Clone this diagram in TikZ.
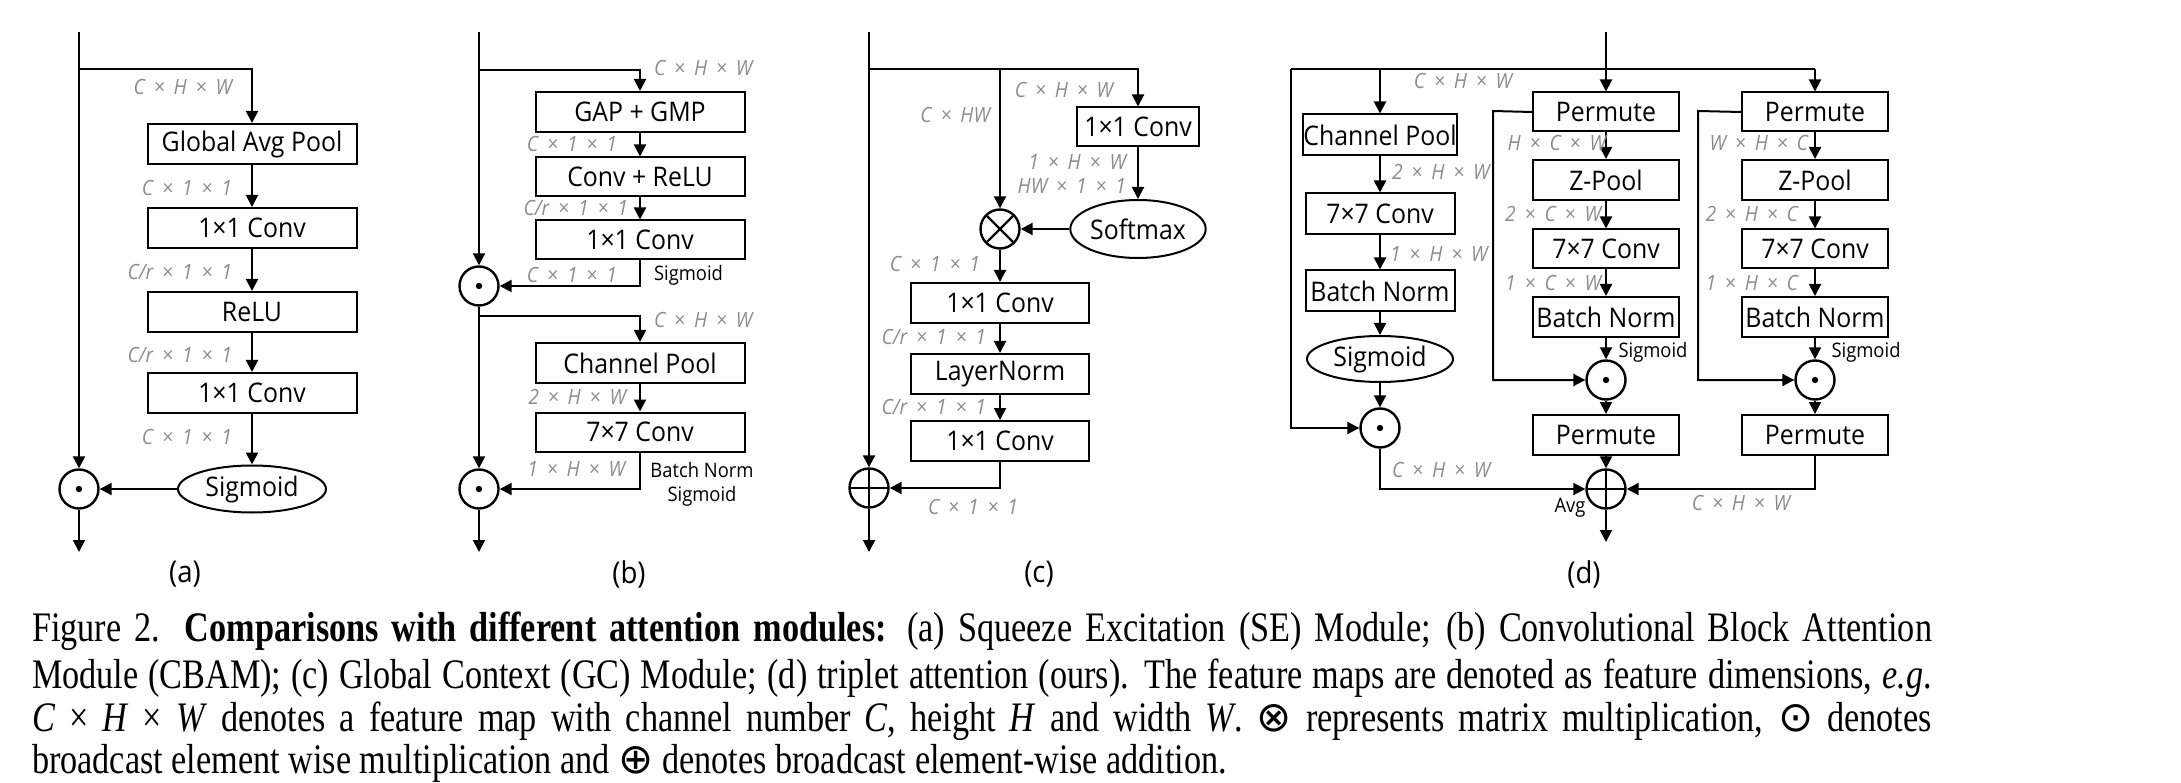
\documentclass[tikz,border=0pt]{standalone}
\usepackage{fontspec}
\setmainfont{Open Sans}[FakeStretch=0.92]
\newfontfamily\capfont[FakeStretch=0.815]{Liberation Serif}
\newfontfamily\opsym{DejaVu Sans}
\usetikzlibrary{arrows.meta,shapes.geometric}
\definecolor{dimtext}{HTML}{8C8C8C}
\newcommand{\blkfont}{\fontsize{27}{32}\selectfont}
\newcommand{\dimfont}{\fontsize{21}{24}\selectfont\itshape}
\newcommand{\notefont}{\fontsize{20}{24}\selectfont}
\newcommand{\subfont}{\fontsize{30}{34}\selectfont}
\newcommand{\capsize}{\capfont\fontsize{42}{47}\selectfont}
\newcommand{\tms}{\hspace{0.42em}×\hspace{0.42em}}

\begin{document}
\begin{tikzpicture}[x=1pt,y=-1pt,line width=2pt,
  >={Triangle[length=12pt,width=12pt]},
  blk/.style={draw,rectangle,minimum height=40pt,inner sep=0pt,font=\blkfont},
  oval/.style={draw,ellipse,inner sep=0pt,font=\blkfont},
  opnode/.style={draw,circle,minimum size=39pt,inner sep=0pt,line width=2.4pt},
  odot/.style={opnode,path picture={\fill (path picture bounding box.center) circle (3.2pt);}},
  oplus/.style={opnode,path picture={\draw[line width=2.2pt]
    (path picture bounding box.north) -- (path picture bounding box.south)
    (path picture bounding box.west) -- (path picture bounding box.east);}},
  otimes/.style={opnode,path picture={\draw[line width=2.2pt]
    (path picture bounding box.north west) -- (path picture bounding box.south east)
    (path picture bounding box.south west) -- (path picture bounding box.north east);}},
  dim/.style={text=dimtext,font=\dimfont,inner sep=1pt},
  note/.style={font=\notefont,inner sep=1pt,align=center},
  subcap/.style={font=\subfont,inner sep=0pt}]
\useasboundingbox (0,0) rectangle (2181,783);

% (a) SE
\coordinate (inA) at (79,32);
\coordinate (brA) at (79,69);
\coordinate (outA) at (79,552);
\node[blk,minimum width=209pt] (gapA) at (252,144) {Global Avg Pool};
\node[blk,minimum width=209pt] (c1A) at (252,228) {1×1 Conv};
\node[blk,minimum width=209pt] (reluA) at (252,312) {ReLU};
\node[blk,minimum width=209pt] (c2A) at (252,393) {1×1 Conv};
\node[oval,minimum width=148pt,minimum height=47pt] (sigA) at (252,489) {Sigmoid};
\node[odot] (dotA) at (79,489) {};
\draw[->] (inA) -- (dotA);
\draw[->] (brA) -| (gapA);
\draw[->] (gapA) -- (c1A);
\draw[->] (c1A) -- (reluA);
\draw[->] (reluA) -- (c2A);
\draw[->] (c2A) -- (sigA);
\draw[->] (sigA) -- (dotA);
\draw[->] (dotA) -- (outA);
\node[dim,anchor=east] (dA1) at (234,87) {C\tms H\tms W};
\node[dim,anchor=east] (dA2) at (234,188) {C\tms 1\tms 1};
\node[dim,anchor=east] (dA3) at (234,272) {C/r\tms 1\tms 1};
\node[dim,anchor=east] (dA4) at (234,355) {C/r\tms 1\tms 1};
\node[dim,anchor=east] (dA5) at (234,437) {C\tms 1\tms 1};
\node[subcap] (subA) at (185,574) {(a)};

% (b) CBAM
\coordinate (inB) at (479,32);
\coordinate (brB) at (479,70);
\coordinate (br2B) at (479,316);
\coordinate (outB) at (479,552);
\node[blk,minimum width=209pt] (gapB) at (640,112) {GAP + GMP};
\node[blk,minimum width=209pt,minimum height=39pt] (crB) at (640,177) {Conv + ReLU};
\node[blk,minimum width=209pt,minimum height=39pt] (c1B) at (640,240) {1×1 Conv};
\node[odot] (dot1B) at (479,286) {};
\node[blk,minimum width=209pt] (cpB) at (640,363) {Channel Pool};
\node[blk,minimum width=209pt,minimum height=39pt] (c7B) at (640,432) {7×7 Conv};
\node[odot] (dot2B) at (479,489) {};
\draw[->] (inB) -- (dot1B);
\draw[->] (brB) -| (gapB);
\draw[->] (gapB) -- (crB);
\draw[->] (crB) -- (c1B);
\draw[->] (c1B) |- (dot1B);
\draw[->] (dot1B) -- (dot2B);
\draw[->] (br2B) -| (cpB);
\draw[->] (cpB) -- (c7B);
\draw[->] (c7B) |- (dot2B);
\draw[->] (dot2B) -- (outB);
\node[dim,anchor=west] (dB1) at (652,68) {C\tms H\tms W};
\node[dim,anchor=east] (dB2) at (619,144) {C\tms 1\tms 1};
\node[dim,anchor=east] (dB3) at (630,208) {C/r\tms 1\tms 1};
\node[dim,anchor=east] (dB4) at (619,275) {C\tms 1\tms 1};
\node[note,anchor=west] (nB1) at (652,275) {Sigmoid};
\node[dim,anchor=west] (dB5) at (652,320) {C\tms H\tms W};
\node[dim,anchor=east] (dB6) at (628,397) {2\tms H\tms W};
\node[dim,anchor=east] (dB7) at (627,469) {1\tms H\tms W};
\node[note] (nB2) at (702,484) {Batch Norm\\Sigmoid};
\node[subcap] (subB) at (629,574) {(b)};

% (c) GC
\coordinate (inC) at (869,32);
\coordinate (brC) at (869,69);
\coordinate (spC) at (1000,69);
\coordinate (outC) at (869,552);
\node[blk,minimum width=122pt,minimum height=39pt] (c1C) at (1138,127) {1×1 Conv};
\node[oval,minimum width=104pt,minimum height=58pt] (smC) at (1138,229) {Softmax};
\node[otimes] (mulC) at (1000,229) {};
\node[blk,minimum width=178pt] (c2C) at (1000,303) {1×1 Conv};
\node[blk,minimum width=178pt] (lnC) at (1000,374) {LayerNorm};
\node[blk,minimum width=178pt] (c3C) at (1000,441) {1×1 Conv};
\node[oplus] (addC) at (869,488) {};
\draw[->] (inC) -- (addC);
\draw[->] (brC) -| (c1C);
\draw[->] (spC) -- (mulC);
\draw[->] (c1C) -- (smC);
\draw[->] (smC) -- (mulC);
\draw[->] (mulC) -- (c2C);
\draw[->] (c2C) -- (lnC);
\draw[->] (lnC) -- (c3C);
\draw[->] (c3C) |- (addC);
\draw[->] (addC) -- (outC);
\node[dim] (dC1) at (1064,90) {C\tms H\tms W};
\node[dim,anchor=east] (dC2) at (992,115) {C\tms HW};
\node[dim,anchor=east] (dC3) at (1128,162) {1\tms H\tms W};
\node[dim,anchor=east] (dC4) at (1128,186) {HW\tms 1\tms 1};
\node[dim,anchor=east] (dC5) at (982,264) {C\tms 1\tms 1};
\node[dim,anchor=east] (dC6) at (988,337) {C/r\tms 1\tms 1};
\node[dim,anchor=east] (dC7) at (988,407) {C/r\tms 1\tms 1};
\node[dim] (dC8) at (973,507) {C\tms 1\tms 1};
\node[subcap] (subC) at (1039,574) {(c)};

% (d) triplet attention
\coordinate (inD) at (1606,32);
\coordinate (lfD) at (1291,69);
\coordinate (cpTopD) at (1380,69);
\coordinate (rtD) at (1815,69);
\coordinate (lpM) at (1493,111);
\coordinate (lpR) at (1698,111);
\coordinate (outD) at (1606,542);
\node[blk,minimum width=149pt,minimum height=41pt] (cpD) at (1380,135) {Channel Pool};
\node[blk,minimum width=149pt,minimum height=41pt] (c7D) at (1380,214) {7×7 Conv};
\node[blk,minimum width=149pt,minimum height=41pt] (bnD) at (1380,291) {Batch Norm};
\node[oval,minimum width=146pt,minimum height=46pt] (sgD) at (1380,359) {Sigmoid};
\node[odot] (dotD) at (1380,428) {};
\foreach \br/\xx in {M/1606,R/1815}{
  \node[blk,minimum width=146pt,minimum height=39pt] (pm1\br) at (\xx,112) {Permute};
  \node[blk,minimum width=146pt] (zp\br) at (\xx,180) {Z-Pool};
  \node[blk,minimum width=146pt,minimum height=39pt] (c7\br) at (\xx,249) {7×7 Conv};
  \node[blk,minimum width=146pt] (bn\br) at (\xx,317) {Batch Norm};
  \node[odot] (dot\br) at (\xx,380) {};
  \node[blk,minimum width=146pt] (pm2\br) at (\xx,435) {Permute};
  \draw[->] (pm1\br) -- (zp\br);
  \draw[->] (zp\br) -- (c7\br);
  \draw[->] (c7\br) -- (bn\br);
  \draw[->] (bn\br) -- (dot\br);
  \draw[->] (dot\br) -- (pm2\br);
  \draw[->] (pm1\br.west) -- (lp\br) |- (dot\br);
}
\node[oplus] (addD) at (1606,489) {};
\draw[->] (inD) -- (pm1M);
\draw (lfD) -- (rtD);
\draw[->] (rtD) -- (pm1R);
\draw[->] (lfD) |- (dotD);
\draw[->] (cpTopD) -- (cpD);
\draw[->] (cpD) -- (c7D);
\draw[->] (c7D) -- (bnD);
\draw[->] (bnD) -- (sgD);
\draw[->] (sgD) -- (dotD);
\draw[->] (dotD) |- (addD);
\draw[->] (pm2M) -- (addD);
\draw[->] (pm2R) |- (addD);
\draw[->] (addD) -- (outD);
\node[dim] (dD1) at (1463,81) {C\tms H\tms W};
\node[dim,anchor=west] (dD2) at (1390,172) {2\tms H\tms W};
\node[dim,anchor=west] (dD3) at (1388,254) {1\tms H\tms W};
\node[dim,anchor=west] (dD4) at (1390,470) {C\tms H\tms W};
\node[note] (nD1) at (1570,508) {Avg};
\node[dim,anchor=east] (dM1) at (1608,143) {H\tms C\tms W};
\node[dim,anchor=east] (dM2) at (1603,214) {2\tms C\tms W};
\node[dim,anchor=east] (dM3) at (1603,283) {1\tms C\tms W};
\node[note] (nM1) at (1653,352) {Sigmoid};
\node[dim,anchor=east] (dR1) at (1810,143) {W\tms H\tms C};
\node[dim,anchor=east] (dR2) at (1800,214) {2\tms H\tms C};
\node[dim,anchor=east] (dR3) at (1800,283) {1\tms H\tms C};
\node[note] (nR1) at (1866,352) {Sigmoid};
\node[dim] (dR4) at (1741,503) {C\tms H\tms W};
\node[subcap] (subD) at (1584,574) {(d)};

% caption
\node[font=\capsize,anchor=base west,inner sep=0pt] (cap1) at (31,641)
  {\hbox to 1900pt{Figure 2. \textbf{Comparisons with different attention modules:} (a) Squeeze Excitation (SE) Module; (b) Convolutional Block Attention}};
\node[font=\capsize,anchor=base west,inner sep=0pt] (cap2) at (31,688)
  {\hbox to 1900pt{Module (CBAM); (c) Global Context (GC) Module; (d) triplet attention (ours). The feature maps are denoted as feature dimensions, \textit{e.g}.}};
\node[font=\capsize,anchor=base west,inner sep=0pt] (cap3) at (31,731)
  {\hbox to 1900pt{\textit{C} × \textit{H} × \textit{W} denotes a feature map with channel number \textit{C}, height \textit{H} and width \textit{W}. {\opsym ⊗} represents matrix multiplication, {\opsym ⊙} denotes}};
\node[font=\capsize,anchor=base west,inner sep=0pt] (cap4) at (31,773)
  {broadcast element wise multiplication and {\opsym ⊕} denotes broadcast element-wise addition.};
\end{tikzpicture}
\end{document}
